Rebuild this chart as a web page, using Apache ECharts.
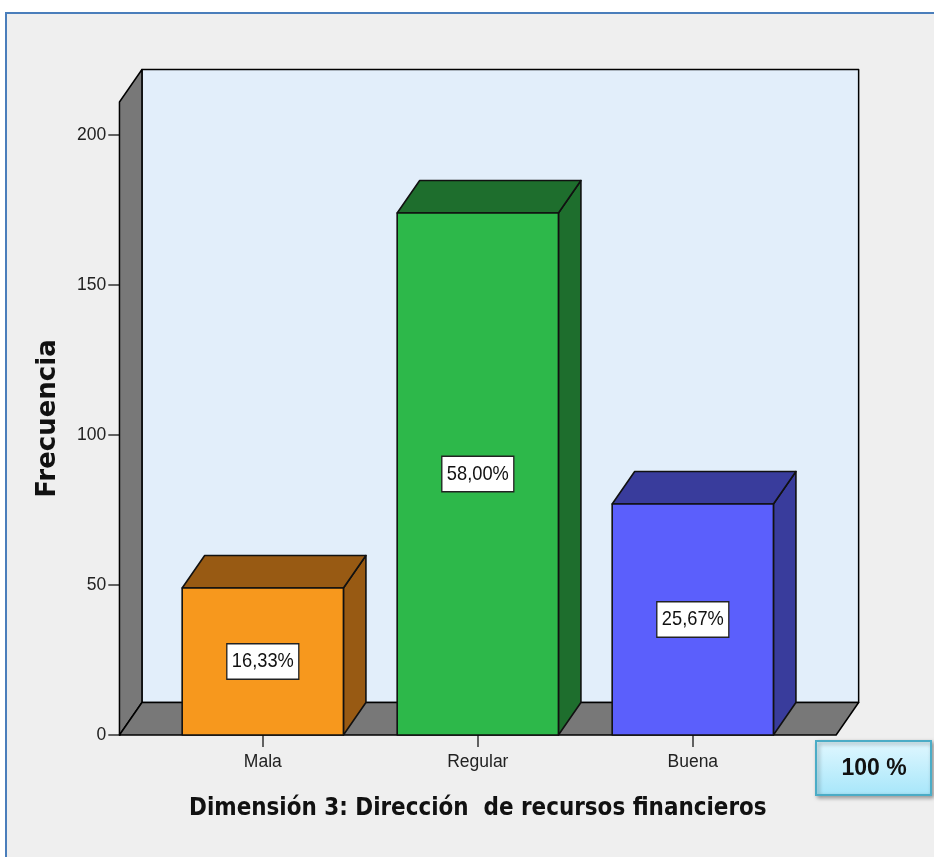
<!DOCTYPE html>
<html>
<head>
<meta charset="utf-8">
<script src="https://cdn.jsdelivr.net/npm/echarts@6/dist/echarts.min.js"></script>
<style>
html,body{margin:0;padding:0;background:#ffffff;width:934px;height:857px;overflow:hidden;}
#frame{position:absolute;left:5px;top:12px;width:929px;height:845px;background:#efefef;border-top:2px solid #4a7ebb;border-left:2px solid #4a7ebb;box-sizing:border-box;}
#chart{position:absolute;left:0;top:0;width:934px;height:857px;}
</style>
</head>
<body>
<div id="frame"></div>
<div id="chart"></div>
<script>
// ---- data ----
const categories = ['Mala', 'Regular', 'Buena'];
const frequencies = [49, 174, 77];
const yTicks = [0, 50, 100, 150, 200];
const xTitle = 'Dimensión 3: Dirección  de recursos financieros';
const yTitle = 'Frecuencia';
const totalLabel = '100 %';

// ---- styles ----
const frontColors = ['#f7981d', '#2db84a', '#5b5ffc'];
const darkColors = ['#985a13', '#1e6e2d', '#393c9c'];
const SANS = '"Liberation Sans", Arial, sans-serif';
const COND = '"DejaVu Sans Condensed", sans-serif';
const total = frequencies.reduce((a, b) => a + b, 0);
const DX = 22.5, DY = -32.5;
const WALL_TOP = 211;

// fit a font size so that text reaches a target width
const mctx = document.createElement('canvas').getContext('2d');
function fitSize(text, weight, family, targetW) {
  mctx.font = weight + ' 100px ' + family;
  const w = mctx.measureText(text).width;
  return Math.round(100 * targetW / w * 10) / 10;
}
const titleSize = Math.min(30, fitSize(xTitle, 'bold', COND, 577));

const chart = echarts.init(document.getElementById('chart'), null, {renderer: 'canvas'});

function bgRender(params, api) {
  const bw = api.size([1, 0])[0];
  const c0 = api.coord([0, 0]);
  const c2 = api.coord([categories.length - 1, 0]);
  const xL = c0[0] - bw * 2 / 3;
  const xR = c2[0] + bw * 2 / 3;
  const y0 = c0[1];
  const yT = api.coord([0, WALL_TOP])[1];
  const stroke = {stroke: '#000', lineWidth: 1.5, lineJoin: 'round'};
  return {
    type: 'group',
    children: [
      {type: 'rect', shape: {x: xL + DX, y: yT + DY, width: xR - xL, height: y0 - yT},
       style: Object.assign({fill: '#e2eefa'}, stroke)},
      {type: 'polygon', shape: {points: [[xL, yT], [xL + DX, yT + DY], [xL + DX, y0 + DY], [xL, y0]]},
       style: Object.assign({fill: '#787878'}, stroke)},
      {type: 'polygon', shape: {points: [[xL, y0], [xL + DX, y0 + DY], [xR + DX, y0 + DY], [xR, y0]]},
       style: Object.assign({fill: '#787878'}, stroke)}
    ]
  };
}

function barRender(params, api) {
  const idx = api.value(0);
  const val = api.value(1);
  const bw = api.size([1, 0])[0];
  const w = bw * 0.75;
  const top = api.coord([idx, val]);
  const base = api.coord([idx, 0]);
  const x1 = top[0] - w / 2, x2 = top[0] + w / 2;
  const yt = top[1], yb = base[1];
  const stroke = {stroke: '#111', lineWidth: 1.6, lineJoin: 'round'};
  const pct = (val / total * 100).toFixed(2).replace('.', ',') + '%';
  return {
    type: 'group',
    children: [
      {type: 'polygon', shape: {points: [[x2, yt], [x2 + DX, yt + DY], [x2 + DX, yb + DY], [x2, yb]]},
       style: Object.assign({fill: darkColors[idx]}, stroke)},
      {type: 'polygon', shape: {points: [[x1, yt], [x1 + DX, yt + DY], [x2 + DX, yt + DY], [x2, yt]]},
       style: Object.assign({fill: darkColors[idx]}, stroke)},
      {type: 'rect', shape: {x: x1, y: yt, width: w, height: yb - yt},
       style: Object.assign({fill: frontColors[idx]}, stroke)},
      {type: 'text', x: top[0], y: (yt + yb) / 2, scaleX: 0.87,
       style: {text: pct, x: 0, y: 0, align: 'center', verticalAlign: 'middle',
               font: '21px ' + SANS, fill: '#111',
               backgroundColor: '#ffffff', borderColor: '#222', borderWidth: 1.5,
               padding: [7, 5, 6, 5]}}
    ]
  };
}

const option = {
  backgroundColor: 'transparent',
  animation: false,
  grid: {left: 155.3, right: 133.7, top: 135, bottom: 122, containLabel: false},
  xAxis: {
    type: 'category',
    data: categories,
    boundaryGap: true,
    axisLine: {show: false},
    axisTick: {show: true, alignWithLabel: true, length: 12, lineStyle: {color: '#333', width: 1.5}},
    axisLabel: {color: '#222', fontSize: 17.5, margin: 18, fontFamily: SANS},
    name: xTitle,
    nameLocation: 'middle',
    nameGap: 808.5 - 735 - titleSize / 2,
    nameTextStyle: {fontSize: titleSize, fontWeight: 'bold', color: '#111', fontFamily: COND}
  },
  yAxis: {
    type: 'value',
    min: yTicks[0],
    max: yTicks[yTicks.length - 1],
    interval: yTicks[1] - yTicks[0],
    offset: 36,
    splitLine: {show: false},
    axisLine: {show: true, lineStyle: {color: '#000', width: 1.5}},
    axisTick: {show: true, length: 11, lineStyle: {color: '#333', width: 1.5}},
    axisLabel: {color: '#222', fontSize: 17.5, margin: 13, fontFamily: SANS},
    name: yTitle,
    nameLocation: 'middle',
    nameGap: 58,
    nameTextStyle: {fontSize: 26, fontWeight: 'bold', color: '#111', fontFamily: '"DejaVu Sans", sans-serif',
                    padding: [0, 0, 0, 33]}
  },
  series: [
    {type: 'custom', renderItem: bgRender, data: [[0, 0]], silent: true, z: 1},
    {type: 'custom', renderItem: barRender, data: frequencies.map((v, i) => [i, v]), z: 2}
  ],
  graphic: [
    {type: 'group', left: 815, top: 740, children: [
      {type: 'rect', shape: {x: 0, y: 0, width: 115, height: 54},
       style: {fill: new echarts.graphic.LinearGradient(0, 0, 0, 1, [{offset: 0, color: '#e2f8ff'}, {offset: 1, color: '#a6e6fa'}]),
               stroke: '#4bacc6', lineWidth: 2, shadowBlur: 4, shadowOffsetX: 2, shadowOffsetY: 2, shadowColor: 'rgba(0,0,0,0.35)'}},
      {type: 'text', x: 58, y: 28, style: {text: totalLabel, align: 'center', verticalAlign: 'middle',
       font: 'bold 23px ' + SANS, fill: '#111'}}
    ]}
  ]
};
chart.setOption(option);
</script>
</body>
</html>
